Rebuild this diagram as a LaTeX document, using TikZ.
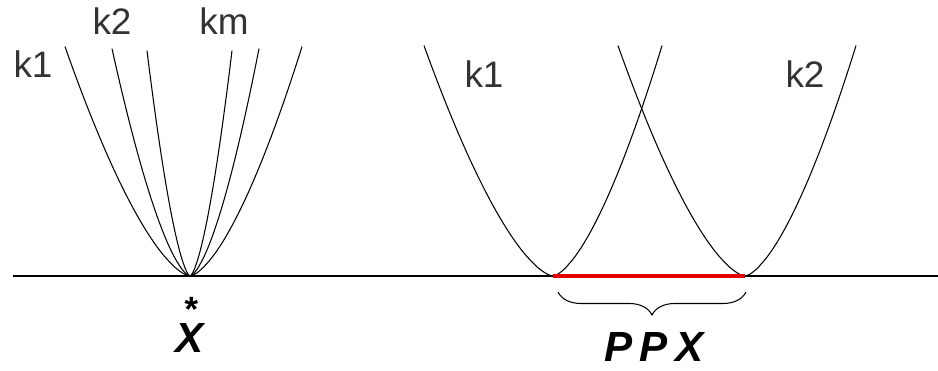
\documentclass[tikz,border=0pt]{standalone}
\usepackage{fontspec}
\setmainfont{Liberation Sans}
\usetikzlibrary{decorations.pathreplacing,positioning}

\tikzset{
  curve/.style={black, line width=0.6pt},
  axisline/.style={black, line width=0.9pt},
  redbar/.style={red!90!black, line width=2.4pt},
  klabel/.style={font=\fontsize{21}{24}\selectfont, text=black!80, inner sep=0pt, anchor=base},
  biglabel/.style={font=\fontsize{24}{28}\selectfont\bfseries\itshape, inner sep=0pt, anchor=base},
}
% a valley: #1 apex, #2 left reach, #3 right reach, #4 height (px)
\newcommand{\valley}[4]{%
  \draw[curve, shift={(#1)}, variable=\t]
    plot[domain=-#2:0, samples=50, smooth] ({\t},{#4*(abs(\t)/#2+0.001)^1.55})
    -- plot[domain=0:#3, samples=50, smooth] ({\t},{#4*(abs(\t)/#3+0.001)^1.55});}

\begin{document}
\begin{tikzpicture}[x=0.02cm, y=0.02cm]
\useasboundingbox (0,0) rectangle (938,371);

% axis and touching points
\coordinate (west) at (13,95);
\coordinate (east) at (938,95);
\coordinate (xstar) at (190,95);
\coordinate (p1) at (553,95);
\coordinate (p2) at (745,95);
\draw[axisline] (west) -- (east);

% left: all curves through one point
\foreach \l/\r/\h in {125/112/229, 78/69/227, 43/42/225} {
  \valley{xstar}{\l}{\r}{\h}
}
\node[klabel] (k1a) at (33,293) {k1};
\node[klabel] (k2a) at (112,336) {k2};
\node[klabel] (kma) at (224,336) {km};
\node[biglabel, anchor=south, align=center] (xlab) at (190,18)
  {{\fontsize{20}{20}\selectfont\bfseries *}\\[-10pt]X};

% right: two valleys
\valley{p1}{129}{109}{230}
\valley{p2}{127}{111}{230}
\node[klabel] (k1b) at (484,283) {k1};
\node[klabel] (k2b) at (805,283) {k2};
\draw[redbar] (p1) -- (p2);

\coordinate (b1) at (558,79);
\coordinate (b2) at (746,79);
\draw[curve, decorate, decoration={brace, mirror, amplitude=0.46cm}] (b1) -- (b2);
\node[biglabel] (ppx) at (654,9) {P\kern4pt P\kern4pt X};
\end{tikzpicture}
\end{document}
